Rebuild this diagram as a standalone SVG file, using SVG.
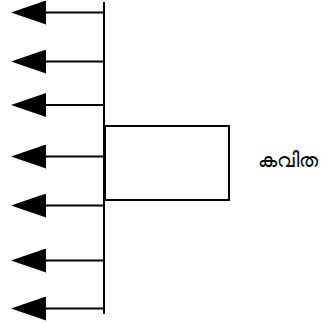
<svg xmlns="http://www.w3.org/2000/svg" width="336" height="323" viewBox="0 0 336 323">
<style>
.ln{stroke:#000;stroke-width:2;fill:none}
.box{stroke:#000;stroke-width:2;fill:#fff}
.lbl{font-family:"Noto Sans","DejaVu Sans",sans-serif;font-size:20px;fill:#000}
</style>
<defs>
<marker id="ah" markerUnits="userSpaceOnUse" markerWidth="36" markerHeight="24" refX="0" refY="12" orient="auto" viewBox="0 0 36 24">
<path d="M0,0 L35,12 L0,24 Z" fill="#000"/>
</marker>
</defs>
<g id="connectors">
<line class="ln" x1="104" y1="2" x2="104" y2="314"/>
<line class="ln" x1="104" y1="12.5" x2="46" y2="12.5" marker-end="url(#ah)"/>
<line class="ln" x1="104" y1="61.5" x2="46" y2="61.5" marker-end="url(#ah)"/>
<line class="ln" x1="104" y1="105" x2="46" y2="105" marker-end="url(#ah)"/>
<line class="ln" x1="104" y1="156.5" x2="46" y2="156.5" marker-end="url(#ah)"/>
<line class="ln" x1="104" y1="205.5" x2="46" y2="205.5" marker-end="url(#ah)"/>
<line class="ln" x1="104" y1="260.5" x2="46" y2="260.5" marker-end="url(#ah)"/>
<line class="ln" x1="104" y1="308.5" x2="46" y2="308.5" marker-end="url(#ah)"/>
</g>
<g id="node">
<rect class="box" x="105" y="126" width="124" height="74"/>
</g>
<g id="label">
<text class="lbl" x="258" y="167">കവിത</text>
</g>
</svg>
